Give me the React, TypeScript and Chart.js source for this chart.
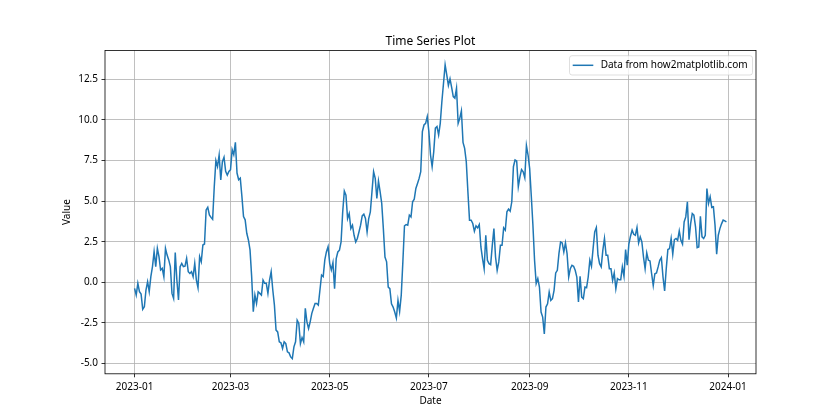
import React, { useEffect, useRef } from "react";
import { Chart, registerables } from "chart.js";

Chart.register(...registerables);

const TITLE = "Time Series Plot";
const X_LABEL = "Date";
const Y_LABEL = "Value";
const SERIES_LABEL = "Data from how2matplotlib.com";
const LINE_COLOR = "#1f77b4";

// x axis: days since 2023-01-01
const X_TICK_DAYS = [0, 59, 120, 181, 243, 304, 365];
const X_TICK_LABELS = ["2023-01", "2023-03", "2023-05", "2023-07", "2023-09", "2023-11", "2024-01"];
const Y_TICKS = [-5, -2.5, 0, 2.5, 5, 7.5, 10, 12.5];

// daily values, 2023-01-01 .. 2023-12-31
const VALUES_JAN_FEB = [
  -0.37, -0.78, -0.06, -0.57, -0.72, -1.66, -1.5, -0.47, 0.04, -0.57,
  0.35, 0.97, 1.89, 0.97, 2.09, 1.58, 0.76, 0.86, 0.35, 2.09,
  1.68, 1.38, 0.97, -0.68, -0.99, 1.83, 0.14, -1.09, 0.97, 1.17,
  0.97, 1.0, 1.48, 0.66, 0.55, 0.66, 0.35, 1.17, 0.14, -0.33,
  1.58, 1.27, 2.3, 2.36, 4.46, 4.62, 4.15, 4.0, 3.88, 5.89,
  7.5, 7.13, 7.84, 6.3, 7.43, 7.7,
];
const VALUES_MAR_APR = [
  6.83, 6.6, 6.83, 6.93, 8.17, 7.86, 8.62,
  6.73, 6.32, 6.42, 5.29, 4.05, 3.85, 3.02, 2.61, 2.0, 0.35,
  -1.81, -0.78, -1.3, -0.58, -0.68, -0.78, 0.14, -0.06, -0.06, -0.68,
  0.14, 0.66, -0.47, -1.4, -2.94, -3.05, -3.66, -3.72, -4.07, -3.66,
  -3.77, -4.28, -4.34, -4.59, -4.69, -3.97, -3.66, -2.33, -2.53, -3.77,
  -3.4, -3.66, -1.6, -2.43, -2.84, -2.43, -1.91, -1.6, -1.3, -1.3,
  -1.4, -0.47, 0.45, 0.35, 1.38, 1.89, 2.2, 1.17, 0.76,
];
const VALUES_MAY_JUN = [
  1.21, -0.39, 1.46, 1.87, 1.98, 2.49, 4.34, 5.62, 5.37, 3.93,
  4.24, 3.31, 3.52, 2.9, 2.49, 2.7, 3.1, 3.52, 4.09, 4.2,
  3.93, 3.1, 3.93, 4.34, 5.58, 6.81, 6.4, 5.16, 6.23, 5.58,
  4.86, 3.31, 1.56, 1.26, -0.29, -0.39, -1.32, -1.52, -1.83, -2.2,
  -1.11, -1.79, -0.8, 1.26, 3.48, 3.56, 3.52, 4.14, 4.03, 4.96,
  5.12, 5.78, 6.09, 6.4, 6.81, 9.28, 9.69, 9.79, 10.2, 9.28,
  7.84, 7.12,
];
const VALUES_JUL_AUG = [
  8.05, 9.49, 9.59, 9.07, 9.79, 11.13, 12.26, 13.4, 12.78, 12.12,
  12.53, 12.0, 11.44, 11.34, 11.95, 9.79, 10.1, 10.56, 8.62, 8.25,
  7.43, 5.58, 3.83, 3.83, 3.62, 3.15, 3.48, 3.35, 3.56, 2.18,
  1.46, 0.84, 2.9, 1.36, 1.15, 1.09, 2.28, 3.31, 1.56, 0.74,
  1.26, 2.28, 2.28, 3.35, 3.21, 4.34, 4.51, 4.38, 4.96, 7.12,
  7.53, 7.47, 5.88, 6.5, 6.95, 6.81, 6.44, 8.42, 7.84, 7.0,
  5.3, 3.5,
];
const VALUES_SEP_OCT = [
  1.36, -0.08, 0.23, -0.29, -1.83, -2.14, -3.17, -1.52, -1.32, -0.6,
  -1.11, -1.01, -0.49, 0.58, 0.74, 1.77, 2.49, 2.43, 1.87, 2.43,
  1.77, 0.33, 0.84, 1.05, 0.99, 0.74, 0.33, -1.21, 0.37, -0.91,
  -1.01, -0.29, -0.33, 0.33, 1.36, 0.99, 2.08, 3.11, 3.37, 1.67,
  1.15, 0.95, 1.98, 2.7, 1.67, 1.67, 0.84, 0.84, 0.12, 0.58,
  -0.39, 0.23, 0.16, 0.16, 0.95, 0.37, 2.02, 1.05, 2.35, 2.84,
  3.21,
];
const VALUES_NOV_DEC = [
  2.96, 2.9, 3.37, 2.43, 2.8, 2.49, 1.56, 0.84, 1.81, 1.36,
  1.32, 0.53, -0.19, 0.53, 0.58, 0.95, 1.36, 1.52, 0.33, -0.53,
  0.84, 2.02, 2.08, 2.7, 1.73, 2.63, 2.7, 2.59, 3.17, 2.59,
  2.35, 3.72, 4.03, 4.96, 2.63, 3.62, 4.24, 4.14, 3.42, 2.14,
  2.18, 4.07, 2.8, 2.7, 2.9, 5.78, 4.86, 5.27, 4.61, 4.65,
  3.52, 1.73, 2.9, 3.31, 3.6, 3.83, 3.78, 3.72,
];

const FONT = "'Noto Sans', 'Open Sans', sans-serif";

const decorPlugin = {
  id: "decor",
  afterDraw(chart: any) {
    const { ctx, chartArea } = chart;
    const { left, right, top, bottom } = chartArea;
    ctx.save();
    // frame
    ctx.strokeStyle = "#000";
    ctx.lineWidth = 0.8;
    ctx.strokeRect(left, top, right - left, bottom - top);
    // title
    ctx.fillStyle = "#000";
    ctx.font = `12px ${FONT}`;
    ctx.textAlign = "center";
    ctx.textBaseline = "alphabetic";
    ctx.fillText(TITLE, (left + right) / 2, top - 5.6);
    // x label
    ctx.font = `10px ${FONT}`;
    ctx.textBaseline = "middle";
    ctx.fillText(X_LABEL, (left + right) / 2, 401);
    // y label
    ctx.save();
    ctx.translate(67.5, (top + bottom) / 2);
    ctx.rotate(-Math.PI / 2);
    ctx.fillText(Y_LABEL, 0, 0);
    ctx.restore();
    // legend
    const lx = 569.5, ly = 55.7, lw = 183, lh = 19.3, r = 2.5;
    ctx.beginPath();
    ctx.moveTo(lx + r, ly);
    ctx.lineTo(lx + lw - r, ly);
    ctx.quadraticCurveTo(lx + lw, ly, lx + lw, ly + r);
    ctx.lineTo(lx + lw, ly + lh - r);
    ctx.quadraticCurveTo(lx + lw, ly + lh, lx + lw - r, ly + lh);
    ctx.lineTo(lx + r, ly + lh);
    ctx.quadraticCurveTo(lx, ly + lh, lx, ly + lh - r);
    ctx.lineTo(lx, ly + r);
    ctx.quadraticCurveTo(lx, ly, lx + r, ly);
    ctx.closePath();
    ctx.fillStyle = "rgba(255,255,255,0.8)";
    ctx.fill();
    ctx.strokeStyle = "rgba(204,204,204,0.8)";
    ctx.lineWidth = 0.8;
    ctx.stroke();
    ctx.strokeStyle = LINE_COLOR;
    ctx.lineWidth = 1.5;
    ctx.beginPath();
    ctx.moveTo(572.7, 65.3);
    ctx.lineTo(593.3, 65.3);
    ctx.stroke();
    ctx.fillStyle = "#000";
    ctx.textAlign = "left";
    ctx.textBaseline = "middle";
    ctx.fillText(SERIES_LABEL, 600.7, 65.5);
    ctx.restore();
  },
};

export default function App() {
  const ref = useRef<HTMLCanvasElement>(null);
  useEffect(() => {
    document.body.style.margin = "0";
    const canvas = ref.current!;
    const values = [
      ...VALUES_JAN_FEB,
      ...VALUES_MAR_APR,
      ...VALUES_MAY_JUN,
      ...VALUES_JUL_AUG,
      ...VALUES_SEP_OCT,
      ...VALUES_NOV_DEC,
    ];
    const gridCommon = {
      color: "#b0b0b0",
      lineWidth: 0.8,
      tickColor: "#000",
      tickLength: 3.5,
      tickWidth: 0.8,
      drawTicks: true,
    };
    const tickFont = { family: FONT, size: 10 };
    const chart = new Chart(canvas, {
      type: "line",
      data: {
        datasets: [
          {
            label: SERIES_LABEL,
            data: values.map((v, i) => ({ x: i, y: v })),
            borderColor: LINE_COLOR,
            borderWidth: 1.5,
            pointRadius: 0,
            fill: false,
            tension: 0,
          },
        ],
      },
      options: {
        responsive: false,
        animation: false,
        devicePixelRatio: 1,
        events: [],
        layout: { padding: { top: 50.4, right: 84, left: 0, bottom: 0 } },
        plugins: {
          legend: { display: false },
          title: { display: false },
          tooltip: { enabled: false },
        },
        scales: {
          x: {
            type: "linear",
            min: -18.2,
            max: 382.2,
            afterBuildTicks: (s: any) => {
              s.ticks = X_TICK_DAYS.map((v) => ({ value: v }));
            },
            afterFit: (s: any) => {
              s.height = 46.2;
            },
            ticks: {
              autoSkip: false,
              maxRotation: 0,
              minRotation: 0,
              padding: 3.5,
              color: "#000",
              font: tickFont,
              callback: (v: any) => X_TICK_LABELS[X_TICK_DAYS.indexOf(Number(v))] ?? "",
            },
            grid: gridCommon,
            border: { display: false },
          },
          y: {
            type: "linear",
            min: -5.63,
            max: 14.28,
            afterBuildTicks: (s: any) => {
              s.ticks = Y_TICKS.map((v) => ({ value: v }));
            },
            afterFit: (s: any) => {
              s.width = 105;
            },
            ticks: {
              padding: 3.5,
              color: "#000",
              font: tickFont,
              callback: (v: any) => Number(v).toFixed(1),
            },
            grid: gridCommon,
            border: { display: false },
          },
        },
      },
      plugins: [decorPlugin],
    } as any);
    return () => chart.destroy();
  }, []);
  return (
    <div style={{ width: 840, height: 420 }}>
      <canvas ref={ref} width={840} height={420} style={{ display: "block", width: 840, height: 420 }} />
    </div>
  );
}
